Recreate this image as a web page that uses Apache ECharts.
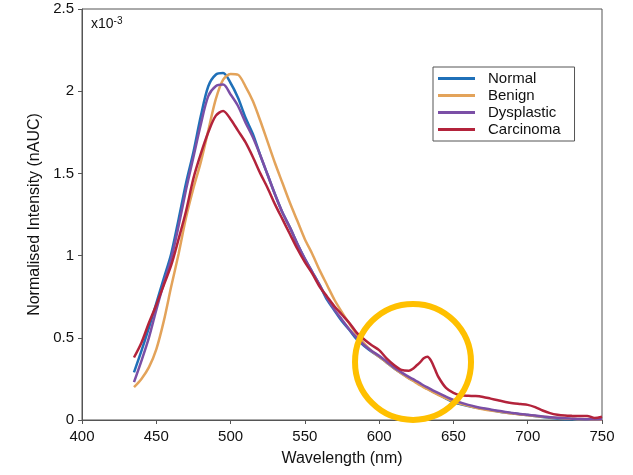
<!DOCTYPE html>
<html>
<head>
<meta charset="utf-8">
<script src="https://cdn.jsdelivr.net/npm/echarts@6/dist/echarts.min.js"></script>
<style>
  html, body { margin: 0; padding: 0; background: #fff; }
  #chart { width: 633px; height: 475px; }
</style>
</head>
<body>
<div id="chart"></div>
<script>
// wavelength (nm), finer steps around the carcinoma peak
let wavelength = [435, 440, 445, 450, 455, 460, 465, 470, 475, 480, 485, 490, 495, 500, 505, 510, 515, 520, 525, 530,
    535, 540, 545, 550, 555, 560, 565, 570, 575, 580, 585, 590, 595, 600, 605, 610, 615, 620, 622.5, 625,
    627.5, 630, 632.5, 635, 637.5, 640, 645, 650, 655, 660, 665, 670, 675, 680, 685, 690, 695, 700, 705, 710,
    715, 720, 725, 730, 735, 740, 745, 750];

// values in units of 1e-3 nAUC
let normal = [0.29, 0.42, 0.56, 0.71, 0.86, 1.01, 1.22, 1.44, 1.63, 1.85, 2.03, 2.10, 2.11, 2.05, 1.96, 1.84, 1.74, 1.61, 1.49, 1.37,
    1.26, 1.17, 1.07, 0.98, 0.90, 0.82, 0.73, 0.665, 0.60, 0.547, 0.49, 0.45, 0.415, 0.385, 0.35, 0.315, 0.285, 0.255, 0.243, 0.23,
    0.216, 0.203, 0.19, 0.178, 0.166, 0.155, 0.13, 0.108, 0.096, 0.085, 0.076, 0.068, 0.06, 0.052, 0.045, 0.04, 0.034, 0.03, 0.024, 0.018,
    0.013, 0.008, 0.005, 0.004, 0.003, 0.002, 0.002, 0.001];
let benign = [0.20, 0.25, 0.32, 0.43, 0.60, 0.81, 1.01, 1.23, 1.41, 1.57, 1.76, 1.95, 2.07, 2.105, 2.10, 2.03, 1.94, 1.82, 1.69, 1.56,
    1.44, 1.32, 1.21, 1.10, 1.01, 0.91, 0.82, 0.73, 0.655, 0.585, 0.52, 0.465, 0.42, 0.385, 0.35, 0.315, 0.283, 0.253, 0.24, 0.226,
    0.212, 0.199, 0.187, 0.175, 0.163, 0.152, 0.132, 0.114, 0.099, 0.086, 0.075, 0.066, 0.058, 0.051, 0.045, 0.039, 0.034, 0.029, 0.024, 0.02,
    0.016, 0.012, 0.009, 0.007, 0.005, 0.004, 0.003, 0.002];
let dysplastic = [0.23, 0.36, 0.50, 0.67, 0.83, 0.98, 1.18, 1.40, 1.60, 1.80, 1.97, 2.03, 2.04, 1.98, 1.91, 1.81, 1.72, 1.61, 1.49, 1.37,
    1.26, 1.17, 1.07, 0.98, 0.90, 0.82, 0.74, 0.67, 0.61, 0.55, 0.50, 0.455, 0.42, 0.39, 0.355, 0.32, 0.29, 0.262, 0.25, 0.237,
    0.224, 0.21, 0.198, 0.186, 0.174, 0.163, 0.142, 0.122, 0.106, 0.092, 0.081, 0.072, 0.064, 0.056, 0.049, 0.043, 0.037, 0.032, 0.027, 0.022,
    0.017, 0.013, 0.01, 0.008, 0.006, 0.005, 0.004, 0.004];
let carcinoma = [0.38, 0.47, 0.59, 0.70, 0.82, 0.94, 1.10, 1.27, 1.47, 1.62, 1.75, 1.85, 1.88, 1.83, 1.76, 1.69, 1.60, 1.50, 1.41, 1.31,
    1.22, 1.13, 1.04, 0.96, 0.89, 0.81, 0.75, 0.69, 0.64, 0.59, 0.53, 0.49, 0.455, 0.425, 0.375, 0.335, 0.305, 0.30, 0.31, 0.33,
    0.35, 0.375, 0.385, 0.36, 0.31, 0.26, 0.195, 0.165, 0.15, 0.147, 0.146, 0.14, 0.13, 0.12, 0.11, 0.102, 0.097, 0.092, 0.078, 0.058,
    0.042, 0.032, 0.027, 0.025, 0.024, 0.025, 0.012, 0.02];

let seriesNames = ['Normal', 'Benign', 'Dysplastic', 'Carcinoma'];
let seriesColors = ['#1f70b8', '#e3a35a', '#7b4fa6', '#b3233b'];
let seriesValues = [normal, benign, dysplastic, carcinoma];

let font = 'Liberation Sans, Arial, sans-serif';
let chart = echarts.init(document.getElementById('chart'), null, {renderer: 'canvas'});

let option = {
    animation: false,
    backgroundColor: '#fff',
    grid: {
        left: 82,
        right: 31,
        top: 9,
        bottom: 55,
        show: true,
        borderColor: '#555',
        borderWidth: 1
    },
    legend: {
        orient: 'vertical',
        left: 433,
        top: 67,
        data: seriesNames,
        icon: 'rect',
        borderColor: '#555',
        borderWidth: 1,
        backgroundColor: '#fff',
        padding: [4, 14, 4, 5],
        itemWidth: 37,
        itemHeight: 3,
        itemGap: 2,
        textStyle: {
            fontFamily: font,
            fontSize: 15,
            lineHeight: 15,
            color: '#111',
            padding: [0, 0, 0, 8]
        }
    },
    xAxis: {
        type: 'value',
        min: 400,
        max: 750,
        interval: 50,
        name: 'Wavelength (nm)',
        nameLocation: 'middle',
        nameGap: 31,
        nameTextStyle: {fontFamily: font, fontSize: 16, color: '#111'},
        splitLine: {show: false},
        axisLine: {lineStyle: {color: '#555', width: 1}},
        axisTick: {length: 4, lineStyle: {color: '#555'}},
        axisLabel: {fontFamily: font, fontSize: 15, color: '#111', margin: 9}
    },
    yAxis: {
        type: 'value',
        min: 0,
        max: 2.5,
        interval: 0.5,
        name: 'Normalised Intensity (nAUC)',
        nameLocation: 'middle',
        nameGap: 35,
        nameTextStyle: {fontFamily: font, fontSize: 16, color: '#111'},
        splitLine: {show: false},
        axisLine: {show: true, lineStyle: {color: '#555', width: 1}},
        axisTick: {show: true, length: 4, lineStyle: {color: '#555'}},
        axisLabel: {fontFamily: font, fontSize: 15, color: '#111', margin: 8}
    },
    series: seriesNames.map(function (name, i) {
        return {
            name: name,
            type: 'line',
            symbol: 'none',
            smooth: 0.3,
            lineStyle: {width: 2.5, color: seriesColors[i]},
            itemStyle: {color: seriesColors[i]},
            data: wavelength.map(function (w, j) {
                return [w, seriesValues[i][j]];
            })
        };
    })
};

chart.setOption(option);

// highlight circle round the carcinoma peak and the exponent label
let centre = chart.convertToPixel({gridIndex: 0}, [622.8, 0.353]);
chart.setOption({
    graphic: [
        {
            type: 'circle',
            shape: {cx: centre[0], cy: centre[1], r: 58},
            style: {fill: 'none', stroke: '#ffc000', lineWidth: 6},
            z: 100
        },
        {
            type: 'text',
            left: 91,
            top: 16,
            style: {
                text: '{a|x10}{b|-3}',
                rich: {
                    a: {fontFamily: font, fontSize: 14, fill: '#111'},
                    b: {fontFamily: font, fontSize: 10, fill: '#111', verticalAlign: 'top', padding: [0, 0, 6, 0]}
                }
            }
        }
    ]
});
</script>
</body>
</html>
